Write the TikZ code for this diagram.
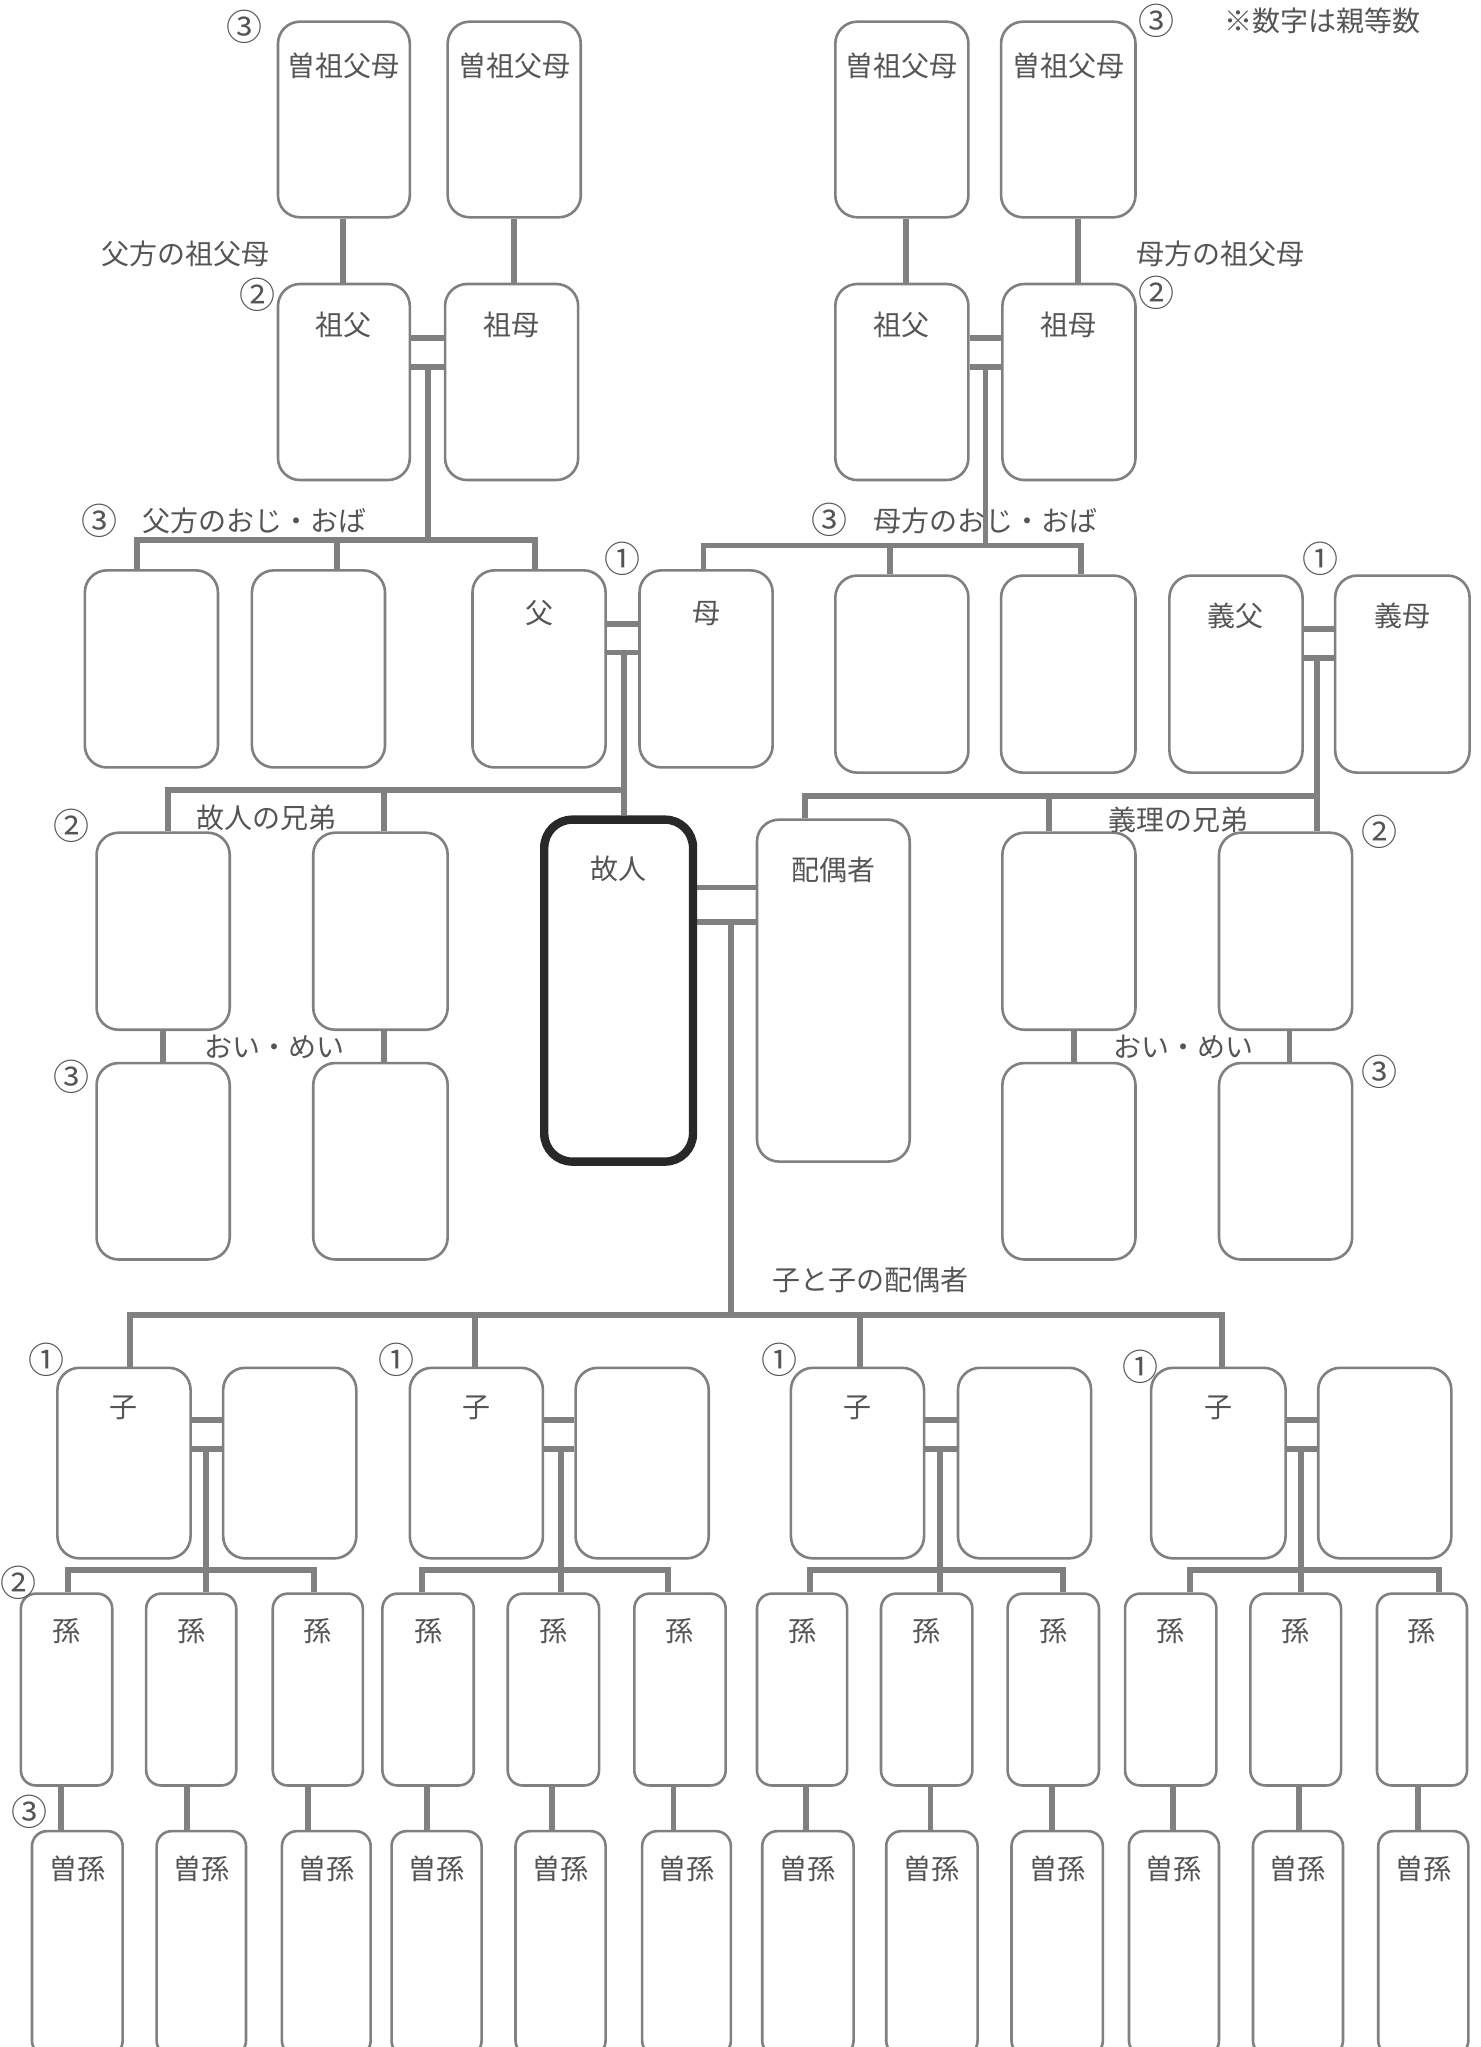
\documentclass[tikz,border=0pt]{standalone}
\usepackage{fontspec}
\setmainfont{Noto Sans CJK JP}
\usetikzlibrary{fit}
\pgfdeclarelayer{bg}
\pgfsetlayers{bg,main}
\definecolor{boxgray}{RGB}{128,128,128}
\definecolor{txtgray}{RGB}{85,85,85}
\definecolor{deadblk}{RGB}{40,40,40}
\tikzset{
  pbox/.style={draw=boxgray, line width=1.3pt, fill=white, inner sep=0pt, rounded corners=11pt},
  nbox/.style={pbox, rounded corners=7.5pt},
  dbox/.style={pbox, draw=deadblk, line width=4.2pt, rounded corners=14pt},
  conn/.style={draw=boxgray, line width=2.9pt},
  plab/.style={inner sep=0pt, text=txtgray, font=\fontsize{14}{16}\selectfont},
  cnum/.style={plab, font=\fontsize{18}{20}\selectfont},
}
% #1 style, #2 name, #3-#6 corners, #7 label, #8 label offset
\newcommand\pb[8]{%
  \node[#1, fit={(#3,#4)(#5,#6)}] (#2) {};
  \node[plab, yshift={-#8*0.6526pt}] (#2t) at (#2.north) {#7};}
\begin{document}
\begin{tikzpicture}[x=0.6526pt, y=-0.6526pt]
\begin{pgfonlayer}{bg}
\fill[white] (0,0) rectangle (1134,1568.4);
\end{pgfonlayer}
\useasboundingbox (0,0) rectangle (1134,1568.4);

% ---- great-grandparents
\pb{pbox}{gg1}{213}{16.6}{314}{166.5}{曽祖父母}{34.5}
\pb{pbox}{gg2}{343}{16.6}{445}{166.5}{曽祖父母}{34.5}
\pb{pbox}{gg3}{640}{16.6}{742}{166.5}{曽祖父母}{34.5}
\pb{pbox}{gg4}{767}{16.6}{870}{166.5}{曽祖父母}{34.5}
% ---- grandparents
\pb{pbox}{gp1}{213}{217.6}{314}{367.8}{祖父}{32.5}
\pb{pbox}{gp2}{341}{217.6}{443}{367.8}{祖母}{32.5}
\pb{pbox}{gp3}{640}{217.6}{742}{367.8}{祖父}{32.5}
\pb{pbox}{gp4}{768}{217.6}{870}{367.8}{祖母}{32.5}
% ---- parents, aunts, uncles, in-laws
\pb{pbox}{pu1}{65}{437}{167}{588}{}{34}
\pb{pbox}{pu2}{193}{437}{295}{588}{}{34}
\pb{pbox}{fa}{362}{437}{464}{588}{父}{34}
\pb{pbox}{mo}{490}{437}{592}{588}{母}{34}
\pb{pbox}{mu1}{640}{441}{742}{592}{}{34}
\pb{pbox}{mu2}{767}{441}{870}{592}{}{34}
\pb{pbox}{ifa}{896}{441}{998}{592}{義父}{32}
\pb{pbox}{imo}{1023}{441}{1126}{592}{義母}{32}
% ---- siblings, deceased, spouse
\pb{pbox}{sib1}{74}{638}{176}{789}{}{30}
\pb{pbox}{sib2}{240}{638}{343}{789}{}{30}
\pb{pbox}{neph1}{74}{814.5}{176}{965}{}{30}
\pb{pbox}{neph2}{240}{814.5}{343}{965}{}{30}
\pb{dbox}{dec}{417}{628}{531}{890}{故人}{41}
\pb{pbox}{sp}{580}{628}{697}{890}{配偶者}{39.4}
\pb{pbox}{isib1}{768}{638}{870}{789}{}{30}
\pb{pbox}{isib2}{934}{638}{1036}{789}{}{30}
\pb{pbox}{ineph1}{768}{814.5}{870}{965}{}{30}
\pb{pbox}{ineph2}{934}{814.5}{1036}{965}{}{30}
% ---- children and their spouses
\pb{pbox}{c1}{44}{1048}{146}{1194}{子}{32}
\pb{pbox}{cs1}{171}{1048}{273}{1194}{}{32}
\pb{pbox}{c2}{314}{1048}{416}{1194}{子}{32}
\pb{pbox}{cs2}{441}{1048}{543}{1194}{}{32}
\pb{pbox}{c3}{606}{1048}{708}{1194}{子}{32}
\pb{pbox}{cs3}{734}{1048}{836}{1194}{}{32}
\pb{pbox}{c4}{882}{1048}{985}{1194}{子}{32}
\pb{pbox}{cs4}{1010}{1048}{1112}{1194}{}{32}
% ---- grandchildren
\pb{nbox}{g1}{16}{1221}{86}{1368}{孫}{30}
\pb{nbox}{g2}{112}{1221}{181}{1368}{孫}{30}
\pb{nbox}{g3}{209}{1221}{278}{1368}{孫}{30}
\pb{nbox}{g4}{293}{1221}{363}{1368}{孫}{30}
\pb{nbox}{g5}{389}{1221}{459}{1368}{孫}{30}
\pb{nbox}{g6}{486}{1221}{556}{1368}{孫}{30}
\pb{nbox}{g7}{580}{1221}{649}{1368}{孫}{30}
\pb{nbox}{g8}{675}{1221}{745}{1368}{孫}{30}
\pb{nbox}{g9}{772}{1221}{842}{1368}{孫}{30}
\pb{nbox}{g10}{862}{1221}{932}{1368}{孫}{30}
\pb{nbox}{g11}{958}{1221}{1027.5}{1368}{孫}{30}
\pb{nbox}{g12}{1055}{1221}{1124}{1368}{孫}{30}
% ---- great-grandchildren
\pb{nbox}{h1}{24.5}{1403}{94}{1575}{曽孫}{30}
\pb{nbox}{h2}{120}{1403}{188.5}{1575}{曽孫}{30}
\pb{nbox}{h3}{216}{1403}{284}{1575}{曽孫}{30}
\pb{nbox}{h4}{300}{1403}{369}{1575}{曽孫}{30}
\pb{nbox}{h5}{395}{1403}{464}{1575}{曽孫}{30}
\pb{nbox}{h6}{492}{1403}{560}{1575}{曽孫}{30}
\pb{nbox}{h7}{584}{1403}{654}{1575}{曽孫}{30}
\pb{nbox}{h8}{679}{1403}{749}{1575}{曽孫}{30}
\pb{nbox}{h9}{775}{1403}{845}{1575}{曽孫}{30}
\pb{nbox}{h10}{865}{1403}{934}{1575}{曽孫}{30}
\pb{nbox}{h11}{960}{1403}{1029}{1575}{曽孫}{30}
\pb{nbox}{h12}{1056}{1403}{1125}{1575}{曽孫}{30}

% ---- free texts
\node[cnum] (n1) at (187,20.4) {③};
\node[cnum] (n2) at (886,16) {③};
\node[plab] (note) at (1013,16) {※数字は親等数};
\node[plab] (lp) at (142,194.6) {父方の祖父母};
\node[cnum] (n3) at (197,226) {②};
\node[plab] (lm) at (935.5,194.6) {母方の祖父母};
\node[cnum] (n4) at (886,224) {②};
\node[cnum] (n5) at (76,399) {③};
\node[plab] (lpu) at (195,399) {父方のおじ・おば};
\node[cnum] (n6) at (477,428.5) {①};
\node[cnum] (n7) at (635.6,398.5) {③};
\node[plab] (lmu) at (754.7,399) {母方のおじ・おば};
\node[cnum] (n8) at (1012,428.5) {①};
\node[plab] (lsib) at (204,627) {故人の兄弟};
\node[cnum] (n9) at (55,633) {②};
\node[plab] (lisib) at (903,628) {義理の兄弟};
\node[cnum] (n10) at (1056.6,637) {②};
\node[plab] (lneph) at (210,802) {おい・めい};
\node[cnum] (n11) at (55,825) {③};
\node[plab] (lineph) at (906.5,802) {おい・めい};
\node[cnum] (n12) at (1056.6,821) {③};
\node[plab] (lch) at (667,981) {子と子の配偶者};
\node[cnum] (n13) at (36,1042) {①};
\node[cnum] (n14) at (303.5,1042) {①};
\node[cnum] (n15) at (597,1042) {①};
\node[cnum] (n16) at (874,1047.5) {①};
\node[cnum] (n17) at (14.5,1213) {②};
\node[cnum] (n18) at (22.5,1388.5) {③};

% ---- connectors (behind the boxes)
\begin{pgfonlayer}{bg}
% great-grandparents to grandparents
\draw[conn] (263,0 |- gg1.south) -- (263,0 |- gp1.north);
\draw[conn] (394,0 |- gg2.south) -- (394,0 |- gp2.north);
\draw[conn] (694,0 |- gg3.south) -- (694,0 |- gp3.north);
\draw[conn] (826,0 |- gg4.south) -- (826,0 |- gp4.north);
% grandparents marriages
\draw[conn] (gp1.east |- 0,259) -- (gp2.west |- 0,259);
\draw[conn] (gp1.east |- 0,281) -- (gp2.west |- 0,281);
\draw[conn] (gp3.east |- 0,259) -- (gp4.west |- 0,259);
\draw[conn] (gp3.east |- 0,281) -- (gp4.west |- 0,281);
% paternal side
\draw[conn] (328,281) -- (328,414);
\draw[conn] (105,0 |- pu1.north) -- (105,414) -- (410,414) -- (410,0 |- fa.north);
\draw[conn] (258,414) -- (258,0 |- pu2.north);
% maternal side
\draw[conn] (755,281) -- (755,418);
\draw[conn] (539,0 |- mo.north) -- (539,418) -- (828,418) -- (828,0 |- mu2.north);
\draw[conn] (682,418) -- (682,0 |- mu1.north);
% parents
\draw[conn] (fa.east |- 0,478) -- (mo.west |- 0,478);
\draw[conn] (fa.east |- 0,500) -- (mo.west |- 0,500);
\draw[conn] (478,500) -- (478,0 |- dec.north);
\draw[conn] (129,0 |- sib1.north) -- (129,605) -- (478,605);
\draw[conn] (294,605) -- (294,0 |- sib2.north);
\draw[conn] (125,0 |- sib1.south) -- (125,0 |- neph1.north);
\draw[conn] (294,0 |- sib2.south) -- (294,0 |- neph2.north);
% in-laws
\draw[conn] (ifa.east |- 0,482) -- (imo.west |- 0,482);
\draw[conn] (ifa.east |- 0,504) -- (imo.west |- 0,504);
\draw[conn] (1009,504) -- (1009,0 |- isib2.north);
\draw[conn] (617,0 |- sp.north) -- (617,610) -- (1009,610);
\draw[conn] (804,610) -- (804,0 |- isib1.north);
\draw[conn] (823,0 |- isib1.south) -- (823,0 |- ineph1.north);
\draw[conn] (988,0 |- isib2.south) -- (988,0 |- ineph2.north);
% deceased and spouse
\draw[conn] (dec.east |- 0,680) -- (sp.west |- 0,680);
\draw[conn] (dec.east |- 0,706.5) -- (sp.west |- 0,706.5);
\draw[conn] (560,706.5) -- (560,1007.5);
\draw[conn] (99.5,0 |- c1.north) -- (99.5,1007.5) -- (936.5,1007.5) -- (936.5,0 |- c4.north);
\draw[conn] (364,1007.5) -- (364,0 |- c2.north);
\draw[conn] (659,1007.5) -- (659,0 |- c3.north);
% children marriages
\draw[conn] (c1.east |- 0,1088) -- (cs1.west |- 0,1088);
\draw[conn] (c1.east |- 0,1110) -- (cs1.west |- 0,1110);
\draw[conn] (c2.east |- 0,1088) -- (cs2.west |- 0,1088);
\draw[conn] (c2.east |- 0,1110) -- (cs2.west |- 0,1110);
\draw[conn] (c3.east |- 0,1088) -- (cs3.west |- 0,1088);
\draw[conn] (c3.east |- 0,1110) -- (cs3.west |- 0,1110);
\draw[conn] (c4.east |- 0,1088) -- (cs4.west |- 0,1088);
\draw[conn] (c4.east |- 0,1110) -- (cs4.west |- 0,1110);
\draw[conn] (158,1110) -- (158,0 |- g2.north);
\draw[conn] (430,1110) -- (430,0 |- g5.north);
\draw[conn] (720,1110) -- (720,0 |- g8.north);
\draw[conn] (997,1110) -- (997,0 |- g11.north);
% grandchildren bars
\draw[conn] (52,0 |- g1.north) -- (52,1203) -- (240.5,1203) -- (240.5,0 |- g3.north);
\draw[conn] (323.5,0 |- g4.north) -- (323.5,1203) -- (512,1203) -- (512,0 |- g6.north);
\draw[conn] (620.5,0 |- g7.north) -- (620.5,1203) -- (814.5,1203) -- (814.5,0 |- g9.north);
\draw[conn] (912,0 |- g10.north) -- (912,1203) -- (1102.6,1203) -- (1102.6,0 |- g12.north);
% grandchildren to great-grandchildren
\draw[conn] (47,0 |- g1.south) -- (47,0 |- h1.north);
\draw[conn] (143,0 |- g2.south) -- (143,0 |- h2.north);
\draw[conn] (236,0 |- g3.south) -- (236,0 |- h3.north);
\draw[conn] (327,0 |- g4.south) -- (327,0 |- h4.north);
\draw[conn] (423,0 |- g5.south) -- (423,0 |- h5.north);
\draw[conn] (516,0 |- g6.south) -- (516,0 |- h6.north);
\draw[conn] (617.5,0 |- g7.south) -- (617.5,0 |- h7.north);
\draw[conn] (713,0 |- g8.south) -- (713,0 |- h8.north);
\draw[conn] (806,0 |- g9.south) -- (806,0 |- h9.north);
\draw[conn] (899,0 |- g10.south) -- (899,0 |- h10.north);
\draw[conn] (995,0 |- g11.south) -- (995,0 |- h11.north);
\draw[conn] (1086.5,0 |- g12.south) -- (1086.5,0 |- h12.north);
\end{pgfonlayer}
\end{tikzpicture}
\end{document}
